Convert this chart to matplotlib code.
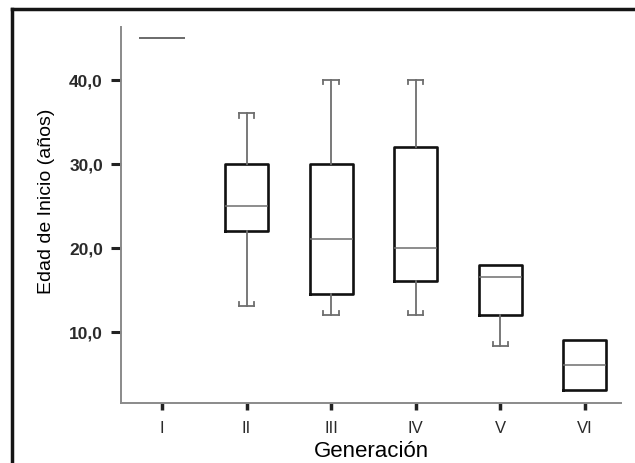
import matplotlib.pyplot as plt
import numpy as np

plt.rcParams['font.family'] = ['Liberation Sans', 'DejaVu Sans']

# box stats
generaciones = ["I", "II", "III", "IV", "V", "VI"]
whislo = [45.0, 13.0, 12.0, 12.0, 8.3, 3.0]
q1 = [45.0, 22.0, 14.5, 16.0, 12.0, 3.0]
med = [45.0, 25.0, 21.0, 20.0, 16.5, 6.0]
q3 = [45.0, 30.0, 30.0, 32.0, 18.0, 9.0]
whishi = [45.0, 36.0, 40.0, 40.0, 18.0, 9.0]
yticks = [10, 20, 30, 40]

stats = []
for i, g in enumerate(generaciones):
    stats.append({"label": g, "whislo": whislo[i], "q1": q1[i], "med": med[i],
                  "q3": q3[i], "whishi": whishi[i], "fliers": []})

fig = plt.figure(figsize=(6.35, 4.64), dpi=100)
ax = fig.add_axes([121 / 635, 1 - 404 / 464, 500 / 635, 376 / 464])

pos = np.arange(1, len(generaciones) + 1)
box_w = 0.51
cap_w = 0.18
grey = "#6e6e6e"

bp = ax.bxp(stats, positions=pos, widths=box_w, capwidths=cap_w, patch_artist=False,
            boxprops=dict(color="#111111", linewidth=1.9),
            medianprops=dict(color=grey, linewidth=1.1),
            whiskerprops=dict(color=grey, linewidth=1.3),
            capprops=dict(color=grey, linewidth=1.3))

# group I is a single value: draw its flat box in grey
bp["boxes"][0].set_color(grey)
bp["boxes"][0].set_linewidth(1.3)

# SPSS-style hooks at the cap ends
hook = 0.5
for i, p in enumerate(pos):
    if whishi[i] > q3[i]:
        for dx in (-cap_w / 2, cap_w / 2):
            ax.plot([p + dx, p + dx], [whishi[i], whishi[i] - hook], color=grey, lw=1.3)
    if whislo[i] < q1[i]:
        for dx in (-cap_w / 2, cap_w / 2):
            ax.plot([p + dx, p + dx], [whislo[i], whislo[i] + hook], color=grey, lw=1.3)
# hide caps where there is no whisker
for i in range(len(pos)):
    if whishi[i] <= q3[i]:
        bp["caps"][2 * i + 1].set_visible(False)
    if whislo[i] >= q1[i]:
        bp["caps"][2 * i].set_visible(False)
bp["caps"][0].set_visible(False)
bp["caps"][1].set_visible(False)

ax.set_xlim(0.515, 6.43)
ax.set_ylim(1.5, 46.3)
ax.set_yticks(yticks)
ax.set_yticklabels([f"{v:.1f}".replace(".", ",") for v in yticks],
                   fontsize=12.5, fontweight="bold", color="#2a2a2a")
ax.set_xticks(pos)
ax.set_xticklabels(generaciones, fontsize=12, color="#2a2a2a")
ax.tick_params(axis="y", length=7, width=2.2, color="#222222", pad=6)
ax.tick_params(axis="x", length=5, width=2.5, color="#222222", pad=7)

for s in ("top", "right"):
    ax.spines[s].set_visible(False)
ax.spines["left"].set_color("#8a8a8a")
ax.spines["bottom"].set_color("#8a8a8a")
ax.spines["left"].set_linewidth(1.4)
ax.spines["bottom"].set_linewidth(1.4)

ax.set_xlabel("Generación", fontsize=16, labelpad=4)
fig.text(47 / 635, 1 - 201 / 464, "Edad de Inicio (años)", rotation=90,
         fontsize=14, ha="center", va="center")

# outer frame (only top and left visible in the crop)
fig.add_artist(plt.Line2D([12 / 635, 12 / 635], [0, 1 - 10 / 464], transform=fig.transFigure,
                          color="#151515", lw=2.5))
fig.add_artist(plt.Line2D([12 / 635, 1], [1 - 10 / 464, 1 - 10 / 464], transform=fig.transFigure,
                          color="#151515", lw=2.5))

fig.savefig("out.png", dpi=100)
